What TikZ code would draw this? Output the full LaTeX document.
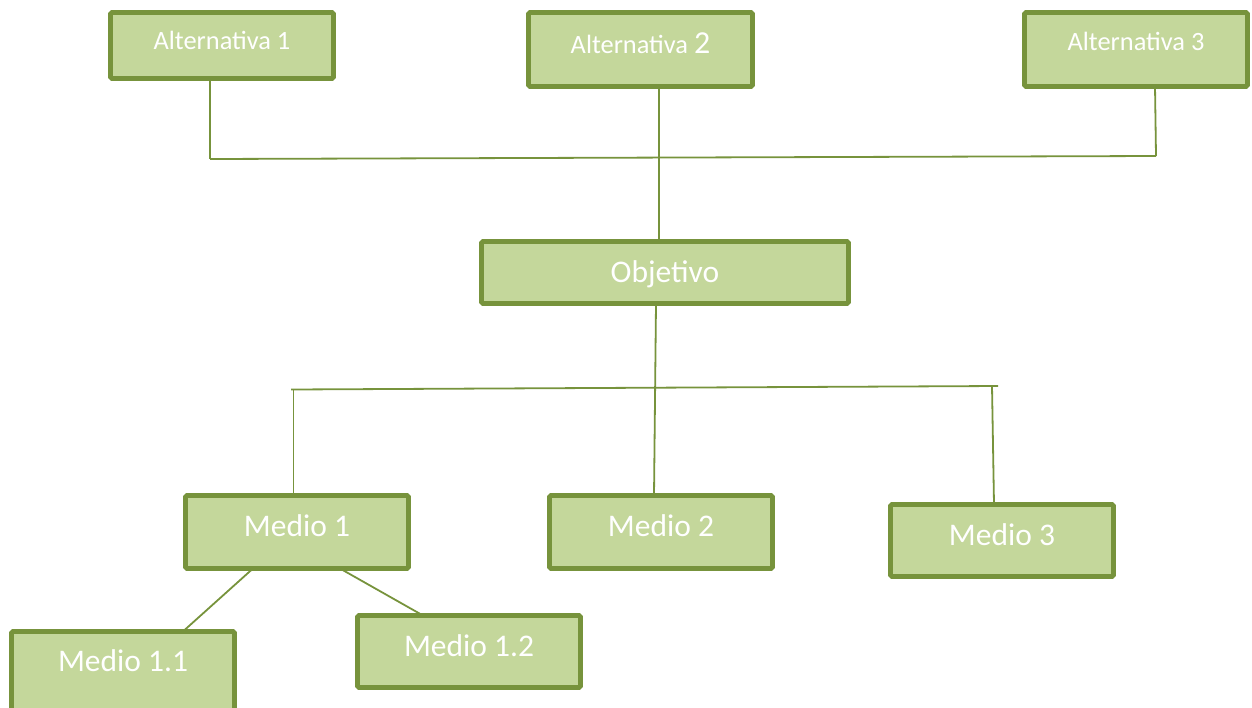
\documentclass[tikz,border=0pt]{standalone}
\usepackage{fontspec}
\setmainfont{Carlito}
\definecolor{boxfill}{HTML}{C4D79B}
\definecolor{boxline}{HTML}{77933C}
\begin{document}
\begin{tikzpicture}[x=1pt,y=-1pt,
  gbox/.style={draw=boxline, fill=boxfill, line width=4.8pt, rounded corners=1.5pt,
    text=white, inner sep=0pt, outer sep=0pt, align=center},
  altbox/.style={gbox, font=\fontsize{26.4}{30}\selectfont, text height=17pt, text depth=9pt},
  medbox/.style={gbox, font=\fontsize{31.5}{36}\selectfont, text height=20pt, text depth=11pt},
  objbox/.style={gbox, font=\fontsize{31.5}{36}\selectfont, text height=20pt, text depth=0pt},
  conn/.style={draw=boxline, line width=1.8pt}]
\useasboundingbox (0,0) rectangle (1252,707);
% boxes
\node[altbox, minimum width=223pt, minimum height=66pt] (alt1) at (222,45.5) {Alternativa 1};
\node[altbox, minimum width=224pt, minimum height=74pt] (alt2) at (640.5,49.5) {Alternativa {\fontsize{32}{36}\selectfont 2}};
\node[altbox, minimum width=223pt, minimum height=74pt, text depth=15pt] (alt3) at (1136,49.5) {Alternativa 3};
\node[objbox, minimum width=367pt, minimum height=62pt] (obj) at (665,272.5) {Objetivo};
\node[medbox, minimum width=223pt, minimum height=73pt] (m1) at (297,532) {Medio 1};
\node[medbox, minimum width=223pt, minimum height=73pt] (m2) at (661,532) {Medio 2};
\node[medbox, minimum width=223pt, minimum height=72pt] (m3) at (1002,540.5) {Medio 3};
\node[medbox, minimum width=223pt, minimum height=84pt, text depth=23pt] (m11) at (123,673.4) {Medio 1.1};
\node[medbox, minimum width=223pt, minimum height=72pt] (m12) at (469,651.5) {Medio 1.2};
% junction coordinates
\coordinate (ja1) at (210,159);
\coordinate (ja3) at (1156,156);
\coordinate (jm1) at (291,389.5);
\coordinate (jm1b) at (293.5,389.5);
\coordinate (jm3) at (998,386);
\coordinate (jm3b) at (992,386);
% top connectors
\draw[conn] (alt1.south -| ja1) -- (ja1);
\draw[conn] (ja1) -- (ja3);
\draw[conn] (alt3.south -| ja3) ++(-1,0) -- (ja3);
\draw[conn] (alt2.south -| 659,0) -- (obj.north -| 659,0);
% middle connectors
\draw[conn] (jm1) -- (jm3);
\draw[conn] (obj.south -| 656,0) -- (m2.north -| 654,0);
\draw[conn] (jm1b) -- (m1.north -| jm1b);
\draw[conn] (jm3b) -- (m3.north -| 994,0);
% bottom connectors
\draw[conn] (m1.south -| 253,0) -- (m11.north -| 183,0);
\draw[conn] (m1.south -| 340,0) -- (m12.north -| 423,0);
\end{tikzpicture}
\end{document}
